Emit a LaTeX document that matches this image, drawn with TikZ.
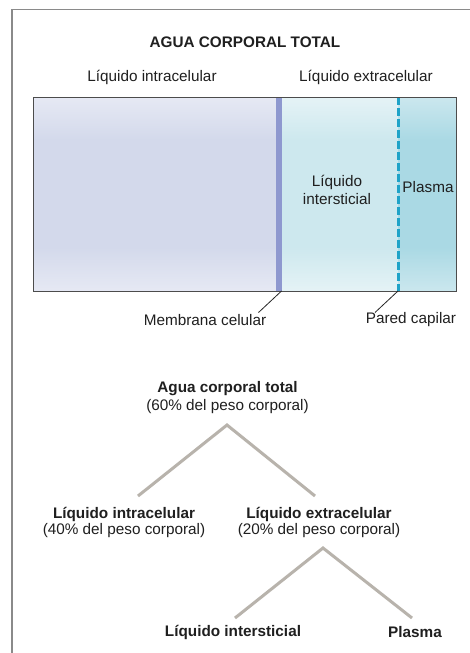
\documentclass[tikz,border=0pt]{standalone}
\usepackage{fontspec}
\setmainfont{Liberation Sans}
\begin{document}
\begin{tikzpicture}[x=1pt,y=-1pt,
  lbl/.style={inner sep=0pt,text=black!88,font=\fontsize{15.3}{18}\selectfont,align=center},
  blbl/.style={lbl,font=\fontsize{15.3}{18}\selectfont\bfseries},
  treeline/.style={draw=treegray,line width=3pt},
  leader/.style={draw=black!85,line width=0.8pt}]
\definecolor{icA}{HTML}{E6E9F4}
\definecolor{icB}{HTML}{D3D9EB}
\definecolor{isA}{HTML}{E5F3F6}
\definecolor{isB}{HTML}{CDE8EE}
\definecolor{plA}{HTML}{CBE7EE}
\definecolor{plB}{HTML}{AAD9E4}
\definecolor{memb}{HTML}{8E98CF}
\definecolor{capil}{HTML}{1FA3C8}
\definecolor{treegray}{HTML}{B8B3AC}
\definecolor{framegray}{HTML}{8A8A8A}
\useasboundingbox (0,0) rectangle (470,653);
\fill[white] (0,0) rectangle (470,653);
% outer frame (partly cropped)
\draw[framegray,line width=1.5pt] (12,653) -- (12,9.5) -- (470,9.5);
% intracellular region
\shade[top color=icA,bottom color=icB] (33,97) rectangle (276,140);
\fill[icB] (33,139.5) rectangle (276,247.5);
\shade[top color=icB,bottom color=icA] (33,247) rectangle (276,291.5);
% interstitial region
\shade[top color=isA,bottom color=isB] (282,97) rectangle (398,140);
\fill[isB] (282,139.5) rectangle (398,247.5);
\shade[top color=isB,bottom color=isA] (282,247) rectangle (398,291.5);
% plasma region
\shade[top color=plA,bottom color=plB] (398,97) rectangle (456.5,140);
\fill[plB] (398,139.5) rectangle (456.5,247.5);
\shade[top color=plB,bottom color=plA] (398,247) rectangle (456.5,291.5);
% membrane and capillary wall
\fill[memb] (276,97) rectangle (282,291.5);
\draw[capil,line width=3pt,dash pattern=on 8pt off 3pt] (398,97) -- (398,291.5);
% box border
\draw[black!70,line width=0.9pt] (33,97) rectangle (456.5,291.5);

% texts top
\node[blbl] (title) at (245,42) {AGUA CORPORAL TOTAL};
\node[lbl] (ic) at (152,77) {Líquido intracelular};
\node[lbl] (ec) at (366,77) {Líquido extracelular};
\node[lbl] (inter) at (337,190) {Líquido\\intersticial};
\node[lbl] (plas) at (428,187) {Plasma};
\node[lbl] (membl) at (205,320) {Membrana celular};
\node[lbl] (pared) at (411,320) {Pared capilar};
\coordinate (mtop) at (281.5,291);
\coordinate (mbot) at (258.5,312.5);
\coordinate (ptop) at (398,291);
\coordinate (pbot) at (375,312.5);
\draw[leader] (mtop) -- (mbot);
\draw[leader] (ptop) -- (pbot);

% tree
\node[blbl] (act) at (227.5,389) {Agua corporal total};
\node[lbl] (actp) at (227.5,407) {(60\% del peso corporal)};
\node[blbl] (lic) at (124,514) {Líquido intracelular};
\node[lbl] (licp) at (124,531) {(40\% del peso corporal)};
\node[blbl] (lec) at (319,514) {Líquido extracelular};
\node[lbl] (lecp) at (319,531) {(20\% del peso corporal)};
\node[blbl] (lis) at (233,632) {Líquido intersticial};
\node[blbl] (pla) at (415,632) {Plasma};
\coordinate (apex1) at (227,425);
\coordinate (l1) at (138,496);
\coordinate (r1) at (315,496);
\coordinate (apex2) at (323,548);
\coordinate (l2) at (235,618);
\coordinate (r2) at (412,618);
\draw[treeline,line join=miter] (l1) -- (apex1) -- (r1);
\draw[treeline,line join=miter] (l2) -- (apex2) -- (r2);
\end{tikzpicture}
\end{document}
